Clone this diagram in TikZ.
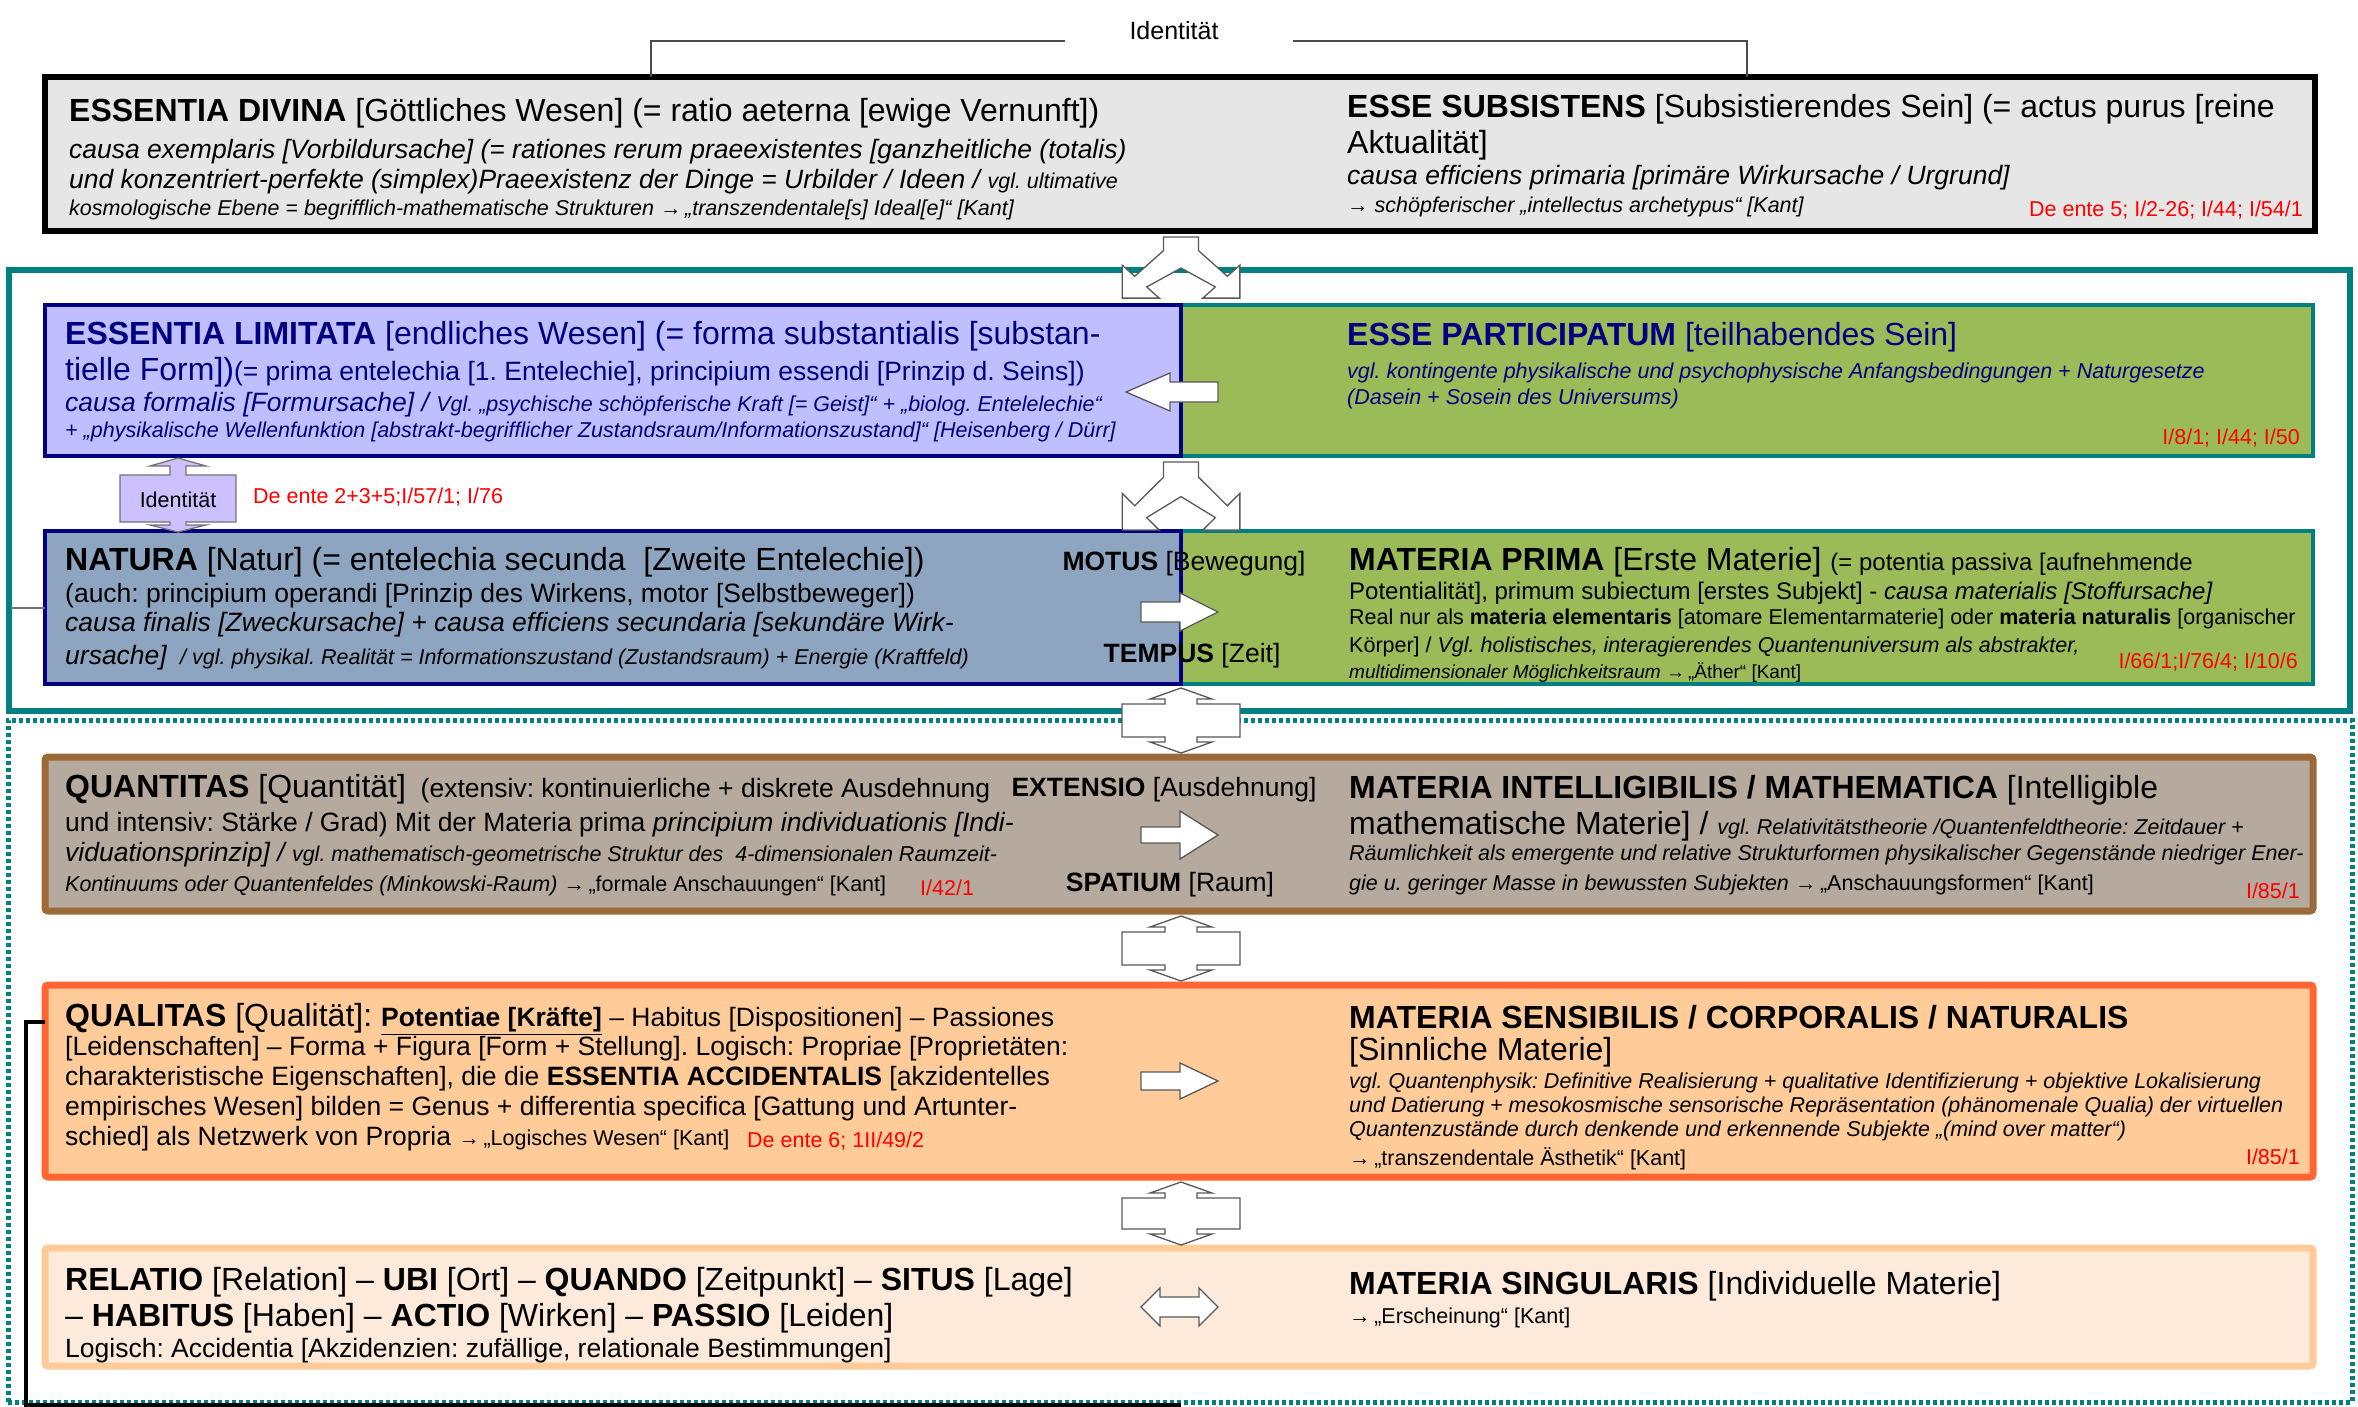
\documentclass[tikz,border=0pt]{standalone}
\usepackage{fontspec}
\setmainfont{Liberation Sans}
\frenchspacing
\definecolor{tealF}{HTML}{008080}
\definecolor{navyB}{HTML}{000080}
\definecolor{lavB}{HTML}{BFBFFF}
\definecolor{greenB}{HTML}{9BBB59}
\definecolor{natB}{HTML}{8EA5C1}
\definecolor{idB}{HTML}{CCC0FF}
\definecolor{quantF}{HTML}{B6A99D}
\definecolor{quantD}{HTML}{9C6A38}
\definecolor{qualF}{HTML}{FFCC99}
\definecolor{qualD}{HTML}{FF6633}
\definecolor{relF}{HTML}{FDEADA}
\definecolor{relD}{HTML}{FFCC99}
\definecolor{refred}{HTML}{FF0000}
\definecolor{grayE}{HTML}{E6E6E6}
\newcommand\szT{\fontsize{32}{38}\selectfont}
\newcommand\szB{\fontsize{26.5}{31}\selectfont}
\newcommand\szM{\fontsize{24}{28}\selectfont}
\newcommand\szS{\fontsize{21.5}{25}\selectfont}
\newcommand\szX{\fontsize{19}{23}\selectfont}
\newcommand\harrow[6]{% tail, headbase, tip, y, h, H
  \draw[blk] (#1,#4-#5) -- (#2,#4-#5) -- (#2,#4-#6) -- (#3,#4) -- (#2,#4+#6) -- (#2,#4+#5) -- (#1,#4+#5) -- cycle;}
\newcommand\hdarrow[7]{% tipA, baseA, baseB, tipB, y, h, H
  \draw[blk] (#1,#5) -- (#2,#5-#7) -- (#2,#5-#6) -- (#3,#5-#6) -- (#3,#5-#7) -- (#4,#5) -- (#3,#5+#7) -- (#3,#5+#6) -- (#2,#5+#6) -- (#2,#5+#7) -- cycle;}
\newcommand\vdarrow[3]{% cx, body top, body bottom
  \draw[blk] (#1-59,#2) -- (#1-16,#2) -- (#1-16,#2-5) -- (#1-31,#2-5) -- (#1,#2-16) -- (#1+31,#2-5) -- (#1+16,#2-5) -- (#1+16,#2) -- (#1+59,#2) -- (#1+59,#3) -- (#1+16,#3) -- (#1+16,#3+5) -- (#1+31,#3+5) -- (#1,#3+16) -- (#1-31,#3+5) -- (#1-16,#3+5) -- (#1-16,#3) -- (#1-59,#3) -- cycle;}
\newcommand\splitarrow[3]{% cx, top, yscale
  \begin{scope}[shift={(#1,#2)},xscale=1.09,yscale=#3]
  \draw[blk] (-16,0) -- (16,0) -- (16,14) -- (42.5,40.5) -- (54,29) -- (54,63) -- (20,63) -- (31.5,51.5) -- (0,32) -- (-31.5,51.5) -- (-20,63) -- (-54,63) -- (-54,29) -- (-42.5,40.5) -- (-16,14) -- cycle;
  \end{scope}}
\begin{document}
\begin{tikzpicture}[x=1pt,y=-1pt,
  tl/.style={anchor=west,inner sep=0pt,align=left,yshift=-2pt},
  tc/.style={anchor=center,inner sep=0pt,yshift=-2pt},
  tr/.style={anchor=east,inner sep=0pt,text=refred,yshift=-2pt},
  trw/.style={anchor=west,inner sep=0pt,text=refred,yshift=-2pt},
  bx/.style={anchor=north west,inner sep=0pt,outer sep=0pt},
  blk/.style={draw=black!65,fill=white,line width=1.3pt,line join=miter},
  thinline/.style={draw=black!70,line width=1.6pt}]
\useasboundingbox (0,0) rectangle (2358,1407);
\fill[white] (0,0) rectangle (2358,1407);

% frames
\node[bx,draw=tealF,line width=6pt,minimum width=2341pt,minimum height=441pt] (tframe) at (9,270) {};
\node[bx,draw=tealF,line width=5pt,dash pattern=on 4pt off 3pt,minimum width=2344pt,minimum height=682pt] (dframe) at (8,720) {};

% top box
\node[bx,draw=black,fill=grayE,line width=6pt,minimum width=2270pt,minimum height=154pt] (ed) at (45,77) {};

% identity line
\coordinate (idA) at (651,41);
\coordinate (idB) at (1065,41);
\coordinate (idC) at (1293,41);
\coordinate (idD) at (1747,41);
\node[tc] (t0) at (1174,29) {\fontsize{25}{30}\selectfont Identität};
\draw[thinline] (idA |- ed.north) -- (idA) -- (idB);
\draw[thinline] (idC) -- (idD) -- (idD |- ed.north);

% second row boxes
\node[bx,draw=tealF,fill=greenB,line width=3.5pt,minimum width=1132pt,minimum height=151pt] (ep) at (1181,305) {};
\node[bx,draw=navyB,fill=lavB,line width=3.5pt,minimum width=1136pt,minimum height=151pt] (el) at (45,305) {};
\node[bx,draw=tealF,fill=greenB,line width=3.5pt,minimum width=1132pt,minimum height=153pt] (mp) at (1181,531) {};
\node[bx,draw=navyB,fill=natB,line width=3.5pt,minimum width=1136pt,minimum height=153pt] (nat) at (45,531) {};

% lower boxes
\node[bx,draw=quantD,fill=quantF,line width=7pt,rounded corners=3pt,minimum width=2268pt,minimum height=154pt] (qt) at (45,757) {};
\node[bx,draw=qualD,fill=qualF,line width=7pt,rounded corners=3pt,minimum width=2268pt,minimum height=192pt] (ql) at (45,985) {};
\node[bx,draw=relD,fill=relF,line width=7pt,rounded corners=3pt,minimum width=2268pt,minimum height=118pt] (rl) at (45,1248) {};

% connector lines
\coordinate (gl) at (11,608);
\draw[draw=black!55,line width=1.6pt] (gl) -- (gl -| nat.west);
\coordinate (blk1) at (26,1022);
\coordinate (blkEnd) at (1181,1405);
\draw[black,line width=4pt] (ql.west |- blk1) -- (blk1) |- (blkEnd);

% identity double arrow (small)
\draw[draw=black!55,fill=idB,line width=1.3pt] (178,458) -- (206,466) -- (186,466) -- (186,475) -- (236,475) -- (236,522) -- (186,522) -- (186,525) -- (206,525) -- (178,532) -- (150,525) -- (170,525) -- (170,522) -- (120,522) -- (120,475) -- (170,475) -- (170,466) -- (150,466) -- cycle;
\node[tc] (t18) at (178,498) {\szS Identität};
\node[trw] (t19) at (253,495) {\szS De ente 2+3+5;I/57/1; I/76};

% block arrows
\splitarrow{1181}{237}{0.97}
\splitarrow{1181}{462}{1.08}
\harrow{1218}{1170}{1126}{392}{10}{19}
\harrow{1141}{1180}{1218}{612}{10}{19}
\vdarrow{1181}{704}{737}
\harrow{1141}{1180}{1218}{835}{8}{24}
\vdarrow{1181}{932}{965}
\harrow{1141}{1180}{1218}{1081}{9}{18}
\vdarrow{1181}{1198}{1229}
\hdarrow{1141}{1160}{1199}{1218}{1307}{10}{19}

% texts: top box
\node[tl] (t1) at (69,111) {\szT\textbf{ESSENTIA DIVINA} [Göttliches Wesen] (= ratio aeterna [ewige Vernunft])};
\node[tl] (t2) at (69,150) {\szB\itshape causa exemplaris [Vorbildursache] (= rationes rerum praeexistentes [ganzheitliche (totalis)};
\node[tl] (t3) at (69,180) {\szB\itshape und konzentriert-perfekte (simplex)Praeexistenz der Dinge = Urbilder / Ideen / {\szS vgl. ultimative}};
\node[tl] (t4) at (69,208) {\szS\itshape kosmologische Ebene = begrifflich-mathematische Strukturen →\,„transzendentale[s] Ideal[e]“ [Kant]};
\node[tl] (t5) at (1347,107) {\szT\textbf{ESSE SUBSISTENS} [Subsistierendes Sein] (= actus purus [reine};
\node[tl] (t6) at (1347,143) {\szT Aktualität]};
\node[tl] (t7) at (1347,176) {\szB\itshape causa efficiens primaria [primäre Wirkursache / Urgrund]};
\node[tl] (t8) at (1347,205) {\szS →\ \itshape schöpferischer „intellectus archetypus“ [Kant]};
\node[tr] (t9) at (2303,208) {\szS De ente 5; I/2-26; I/44; I/54/1};

% LIMITATA / PARTICIPATUM
\begin{scope}[every node/.append style={text=navyB}]
\node[tl] (t10) at (65,334) {\szT\textbf{ESSENTIA LIMITATA} [endliches Wesen] (= forma substantialis [substan-};
\node[tl] (t11) at (65,370) {\szT tielle Form]){\szB(= prima entelechia [1. Entelechie], principium essendi [Prinzip d. Seins])}};
\node[tl] (t12) at (65,403) {\szB\itshape causa formalis [Formursache] / {\szS Vgl. „psychische schöpferische Kraft [= Geist]“ + „biolog. Entelelechie“}};
\node[tl] (t13) at (65,430) {\szS\itshape + „physikalische Wellenfunktion [abstrakt-begrifflicher Zustandsraum/Informationszustand]“ [Heisenberg / Dürr]};
\node[tl] (t14) at (1347,335) {\szT\textbf{ESSE PARTICIPATUM} [teilhabendes Sein]};
\node[tl] (t15) at (1347,371) {\szS\itshape vgl. kontingente physikalische und psychophysische Anfangsbedingungen + Naturgesetze};
\node[tl] (t16) at (1347,397) {\szS\itshape (Dasein + Sosein des Universums)};
\end{scope}
\node[tr] (t17) at (2300,436) {\szS I/8/1; I/44; I/50};

% NATURA / MATERIA PRIMA
\node[tl] (t20) at (65,560) {\szT\textbf{NATURA} [Natur] (= entelechia secunda \ [Zweite Entelechie])};
\node[tl] (t21) at (65,594) {\szB (auch: principium operandi [Prinzip des Wirkens, motor [Selbstbeweger])};
\node[tl] (t22) at (65,623) {\szB\itshape causa finalis [Zweckursache] + causa efficiens secundaria [sekundäre Wirk-};
\node[tl] (t23) at (65,656) {\szB\itshape ursache] {\szS\ / vgl. physikal. Realität = Informationszustand (Zustandsraum) + Energie (Kraftfeld)}};
\node[tc] (t24) at (1184,562) {\szB\textbf{MOTUS} [Bewegung]};
\node[tc] (t25) at (1192,654) {\szB\textbf{TEMPUS} [Zeit]};
\node[tl] (t26) at (1349,560) {\szT\textbf{MATERIA PRIMA} [Erste Materie] {\szM(= potentia passiva [aufnehmende}};
\node[tl] (t27) at (1349,591) {\szM Potentialität], primum subiectum [erstes Subjekt] - \textit{causa materialis [Stoffursache]}};
\node[tl] (t28) at (1349,617) {\szS Real nur als \textbf{materia elementaris} [atomare Elementarmaterie] oder \textbf{materia naturalis} [organischer};
\node[tl] (t29) at (1349,645) {\szS Körper] / \textit{Vgl. holistisches, interagierendes Quantenuniversum als abstrakter,}};
\node[tl] (t30) at (1349,671) {\szX\textit{multidimensionaler Möglichkeitsraum} →\,„Äther“ [Kant]};
\node[tr] (t31) at (2298,660) {\szS I/66/1;I/76/4; I/10/6};

% QUANTITAS / INTELLIGIBILIS
\node[tl] (t32) at (65,787) {\szT\textbf{QUANTITAS} [Quantität]{\szB\ \ (extensiv: kontinuierliche + diskrete Ausdehnung}};
\node[tl] (t33) at (65,823) {\szB und intensiv: Stärke / Grad) Mit der Materia prima \textit{principium individuationis [Indi-}};
\node[tl] (t34) at (65,853) {\szB\itshape viduationsprinzip] / {\szS vgl. mathematisch-geometrische Struktur des \ 4-dimensionalen Raumzeit-}};
\node[tl] (t35) at (65,884) {\szS\textit{Kontinuums oder Quantenfeldes (Minkowski-Raum)} →\,„formale Anschauungen“ [Kant]};
\node[trw] (t36) at (920,886) {\szS I/42/1};
\node[tc] (t37) at (1164,788) {\szB\textbf{EXTENSIO} [Ausdehnung]};
\node[tc] (t38) at (1170,883) {\szB\textbf{SPATIUM} [Raum]};
\node[tl] (t39) at (1349,788) {\szT\textbf{MATERIA INTELLIGIBILIS / MATHEMATICA} [Intelligible};
\node[tl] (t40) at (1349,824) {\szT mathematische Materie] / {\szS\itshape vgl. Relativitätstheorie /Quantenfeldtheorie: Zeitdauer +}};
\node[tl] (t41) at (1349,853) {\szS\itshape Räumlichkeit als emergente und relative Strukturformen physikalischer Gegenstände niedriger Ener-};
\node[tl] (t42) at (1349,883) {\szS\textit{gie u. geringer Masse in bewussten Subjekten} →\,„Anschauungsformen“ [Kant]};
\node[tr] (t43) at (2300,889) {\szS I/85/1};

% QUALITAS / SENSIBILIS
\node[tl] (t44) at (65,1017) {\szT\textbf{QUALITAS} [Qualität]: {\szB\textbf{\underline{Potentiae [Kräfte]}} – Habitus [Dispositionen] – Passiones}};
\node[tl] (t45) at (65,1047) {\szB [Leidenschaften] – Forma + Figura [Form + Stellung]. Logisch: Propriae [Proprietäten:};
\node[tl] (t46) at (65,1077) {\szB charakteristische Eigenschaften], die die \textbf{ESSENTIA ACCIDENTALIS} [akzidentelles};
\node[tl] (t47) at (65,1107) {\szB empirisches Wesen] bilden = Genus + differentia specifica [Gattung und Artunter-};
\node[tl] (t48) at (65,1137) {\szB schied] als Netzwerk von Propria {\szS →\,„Logisches Wesen“ [Kant]}};
\node[trw] (t49) at (747,1139) {\szS De ente 6; 1II/49/2};
\node[tl] (t50) at (1349,1015) {\szT\textbf{MATERIA SENSIBILIS / CORPORALIS / NATURALIS}};
\node[tl] (t51) at (1349,1050) {\szT [Sinnliche Materie]};
\node[tl] (t52) at (1349,1081) {\szS\itshape vgl. Quantenphysik: Definitive Realisierung + qualitative Identifizierung + objektive Lokalisierung};
\node[tl] (t53) at (1349,1105) {\szS\itshape und Datierung + mesokosmische sensorische Repräsentation (phänomenale Qualia) der virtuellen};
\node[tl] (t54) at (1349,1129) {\szS\itshape Quantenzustände durch denkende und erkennende Subjekte „(mind over matter“)};
\node[tl] (t55) at (1349,1157) {\szS →\,„transzendentale Ästhetik“ [Kant]};
\node[tr] (t56) at (2300,1155) {\szS I/85/1};

% RELATIO / SINGULARIS
\node[tl] (t57) at (65,1280) {\szT\textbf{RELATIO} [Relation] – \textbf{UBI} [Ort] – \textbf{QUANDO} [Zeitpunkt] – \textbf{SITUS} [Lage]};
\node[tl] (t58) at (65,1316) {\szT – \textbf{HABITUS} [Haben] – \textbf{ACTIO} [Wirken] – \textbf{PASSIO} [Leiden]};
\node[tl] (t59) at (65,1349) {\szB Logisch: Accidentia [Akzidenzien: zufällige, relationale Bestimmungen]};
\node[tl] (t60) at (1349,1284) {\szT\textbf{MATERIA SINGULARIS} [Individuelle Materie]};
\node[tl] (t61) at (1349,1316) {\szS →\,„Erscheinung“ [Kant]};
\end{tikzpicture}
\end{document}
